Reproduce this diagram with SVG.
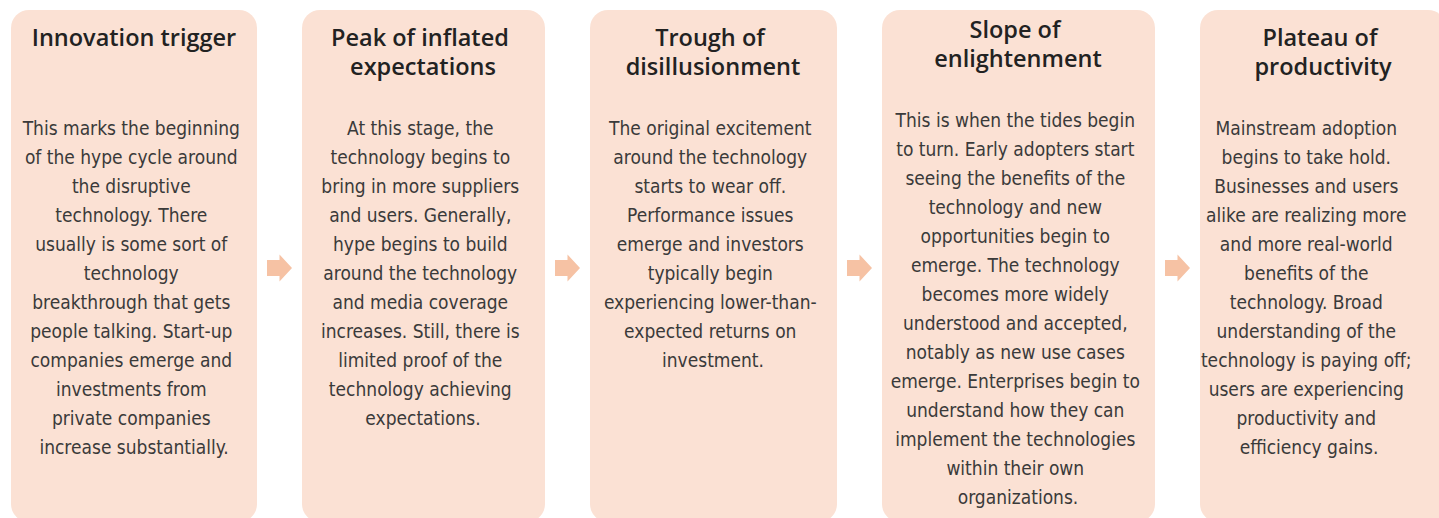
<svg xmlns="http://www.w3.org/2000/svg" width="1439" height="518" viewBox="0 0 1439 518">
  <defs>
    <style>
      .card { fill: #fbe1d4; }
      .head { font-family: "Open Sans", "Noto Sans", sans-serif; font-weight: 600; font-size: 23.5px; fill: #222222; text-anchor: middle; }
      .body { font-family: "DejaVu Sans Condensed", "Liberation Sans", sans-serif; font-stretch: condensed; font-size: 19px; fill: #3a3a3a; text-anchor: middle; }
      .step { fill: #f6c2a4; }
    </style>
    <path id="step-arrow" d="M -12.5 -8 L 0 -8 L 0 -13.5 L 12.5 0 L 0 13.5 L 0 8 L -12.5 8 Z"/>
  </defs>
  <rect width="1439" height="518" fill="#ffffff"/>

  <g id="innovation-trigger">
    <rect class="card" x="11" y="10" width="246" height="512" rx="18"/>
    <text class="head" x="134" y="46">Innovation trigger</text>
    <text class="body" x="134">
      <tspan x="134" y="135">This marks the beginning</tspan>
      <tspan x="134" y="164">of the hype cycle around</tspan>
      <tspan x="134" y="193">the disruptive</tspan>
      <tspan x="134" y="222">technology. There</tspan>
      <tspan x="134" y="251">usually is some sort of</tspan>
      <tspan x="134" y="280">technology</tspan>
      <tspan x="134" y="309">breakthrough that gets</tspan>
      <tspan x="134" y="338">people talking. Start-up</tspan>
      <tspan x="134" y="367">companies emerge and</tspan>
      <tspan x="134" y="396">investments from</tspan>
      <tspan x="134" y="425">private companies</tspan>
      <tspan x="134" y="454">increase substantially.</tspan>
    </text>
  </g>

  <g id="peak-of-inflated-expectations">
    <rect class="card" x="302" y="10" width="243" height="512" rx="18"/>
    <text class="head">
      <tspan x="423" y="46">Peak of inflated</tspan>
      <tspan x="423" y="75">expectations</tspan>
    </text>
    <text class="body">
      <tspan x="423" y="135">At this stage, the</tspan>
      <tspan x="423" y="164">technology begins to</tspan>
      <tspan x="423" y="193">bring in more suppliers</tspan>
      <tspan x="423" y="222">and users. Generally,</tspan>
      <tspan x="423" y="251">hype begins to build</tspan>
      <tspan x="423" y="280">around the technology</tspan>
      <tspan x="423" y="309">and media coverage</tspan>
      <tspan x="423" y="338">increases. Still, there is</tspan>
      <tspan x="423" y="367">limited proof of the</tspan>
      <tspan x="423" y="396">technology achieving</tspan>
      <tspan x="423" y="425">expectations.</tspan>
    </text>
  </g>

  <g id="trough-of-disillusionment">
    <rect class="card" x="590" y="10" width="247" height="512" rx="18"/>
    <text class="head">
      <tspan x="713" y="46">Trough of</tspan>
      <tspan x="713" y="75">disillusionment</tspan>
    </text>
    <text class="body">
      <tspan x="713" y="135">The original excitement</tspan>
      <tspan x="713" y="164">around the technology</tspan>
      <tspan x="713" y="193">starts to wear off.</tspan>
      <tspan x="713" y="222">Performance issues</tspan>
      <tspan x="713" y="251">emerge and investors</tspan>
      <tspan x="713" y="280">typically begin</tspan>
      <tspan x="713" y="309">experiencing lower-than-</tspan>
      <tspan x="713" y="338">expected returns on</tspan>
      <tspan x="713" y="367">investment.</tspan>
    </text>
  </g>

  <g id="slope-of-enlightenment">
    <rect class="card" x="882" y="10" width="273" height="512" rx="18"/>
    <text class="head">
      <tspan x="1018" y="38">Slope of</tspan>
      <tspan x="1018" y="67">enlightenment</tspan>
    </text>
    <text class="body">
      <tspan x="1018" y="127">This is when the tides begin</tspan>
      <tspan x="1018" y="156">to turn. Early adopters start</tspan>
      <tspan x="1018" y="185">seeing the benefits of the</tspan>
      <tspan x="1018" y="214">technology and new</tspan>
      <tspan x="1018" y="243">opportunities begin to</tspan>
      <tspan x="1018" y="272">emerge. The technology</tspan>
      <tspan x="1018" y="301">becomes more widely</tspan>
      <tspan x="1018" y="330">understood and accepted,</tspan>
      <tspan x="1018" y="359">notably as new use cases</tspan>
      <tspan x="1018" y="388">emerge. Enterprises begin to</tspan>
      <tspan x="1018" y="417">understand how they can</tspan>
      <tspan x="1018" y="446">implement the technologies</tspan>
      <tspan x="1018" y="475">within their own</tspan>
      <tspan x="1018" y="504">organizations.</tspan>
    </text>
  </g>

  <g id="plateau-of-productivity">
    <rect class="card" x="1200" y="10" width="246" height="512" rx="18"/>
    <text class="head">
      <tspan x="1323" y="46">Plateau of</tspan>
      <tspan x="1323" y="75">productivity</tspan>
    </text>
    <text class="body">
      <tspan x="1309" y="135">Mainstream adoption</tspan>
      <tspan x="1309" y="164">begins to take hold.</tspan>
      <tspan x="1309" y="193">Businesses and users</tspan>
      <tspan x="1309" y="222">alike are realizing more</tspan>
      <tspan x="1309" y="251">and more real-world</tspan>
      <tspan x="1309" y="280">benefits of the</tspan>
      <tspan x="1309" y="309">technology. Broad</tspan>
      <tspan x="1309" y="338">understanding of the</tspan>
      <tspan x="1309" y="367">technology is paying off;</tspan>
      <tspan x="1309" y="396">users are experiencing</tspan>
      <tspan x="1309" y="425">productivity and</tspan>
      <tspan x="1309" y="454">efficiency gains.</tspan>
    </text>
  </g>

  <!-- block arrows between the stages -->
  <g id="connectors" class="step">
    <use href="#step-arrow" x="279.5" y="268"/>
    <use href="#step-arrow" x="567.5" y="268"/>
    <use href="#step-arrow" x="859.5" y="268"/>
    <use href="#step-arrow" x="1177.5" y="268"/>
  </g>
</svg>
